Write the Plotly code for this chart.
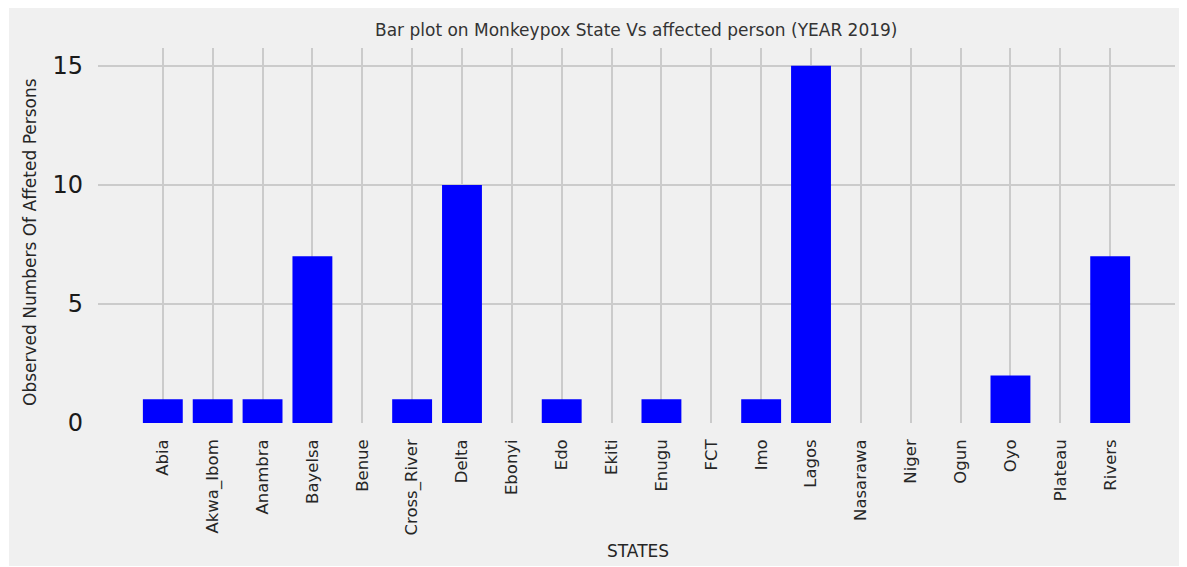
import plotly.graph_objects as go

states = ["Abia", "Akwa_Ibom", "Anambra", "Bayelsa", "Benue", "Cross_River", "Delta",
          "Ebonyi", "Edo", "Ekiti", "Enugu", "FCT", "Imo", "Lagos", "Nasarawa", "Niger",
          "Ogun", "Oyo", "Plateau", "Rivers"]
cases = [1, 1, 1, 7, 0, 1, 10, 0, 1, 0, 1, 0, 1, 15, 0, 0, 0, 2, 0, 7]
y_ticks = [0, 5, 10, 15]

title_text = "Bar plot on Monkeypox State Vs affected person (YEAR 2019)"
x_title = "STATES"
y_title = "Observed Numbers Of Affeted Persons"

BG = "#f0f0f0"
GRID = "#cbcbcb"
FONT = "DejaVu Sans"

fig = go.Figure()
fig.add_trace(go.Bar(x=states, y=cases, width=0.8,
                     marker=dict(color="#0000ff", line=dict(width=0))))

# figure is offset by the 8px body margin of the page
OFF = 8
W, H = 1187 - OFF, 567 - OFF
L, T = 98 - OFF, 48 - OFF
pw, ph = 1077, 375
R = W - L - pw
B = H - T - ph

def px_x(p):  # page pixel -> paper x
    return (p - OFF - L) / pw

def px_y(p):  # page pixel -> paper y
    return (T + ph - (p - OFF)) / ph

fig.add_shape(type="rect", xref="paper", yref="paper",
              x0=px_x(9), x1=px_x(1180), y0=px_y(566), y1=px_y(7),
              fillcolor=BG, line=dict(width=0), layer="below")

fig.update_layout(
    width=W, height=H,
    margin=dict(l=L, r=R, t=T, b=B),
    paper_bgcolor="white",
    plot_bgcolor="rgba(0,0,0,0)",
    font=dict(family=FONT, color="#262626"),
    showlegend=False,
    annotations=[
        dict(text=title_text, xref="paper", yref="paper", x=px_x(636), y=px_y(30),
             xanchor="center", yanchor="middle", showarrow=False,
             font=dict(size=17, color="#333333", family=FONT)),
        dict(text=x_title, xref="paper", yref="paper", x=px_x(638), y=px_y(551),
             xanchor="center", yanchor="middle", showarrow=False,
             font=dict(size=17, color="#262626", family=FONT)),
        dict(text=y_title, xref="paper", yref="paper", x=px_x(30), y=px_y(242),
             xanchor="center", yanchor="middle", showarrow=False, textangle=-90,
             font=dict(size=17, color="#262626", family=FONT)),
    ],
)

fig.update_xaxes(
    type="category", range=[-1.3, len(states) - 1 + 1.3],
    showgrid=True, gridcolor=GRID, gridwidth=1.8,
    tickangle=-90, tickfont=dict(size=16.5, color="#262626"),
    ticks="", ticklabelstandoff=12,
    showline=False, zeroline=False,
)
fig.update_yaxes(
    range=[0, 15.75], tickvals=y_ticks,
    showgrid=True, gridcolor=GRID, gridwidth=1.8,
    tickfont=dict(size=24, color="#1a1a1a"),
    ticks="", ticklabelstandoff=14,
    showline=False, zeroline=False,
)

fig.write_html("out.html")
